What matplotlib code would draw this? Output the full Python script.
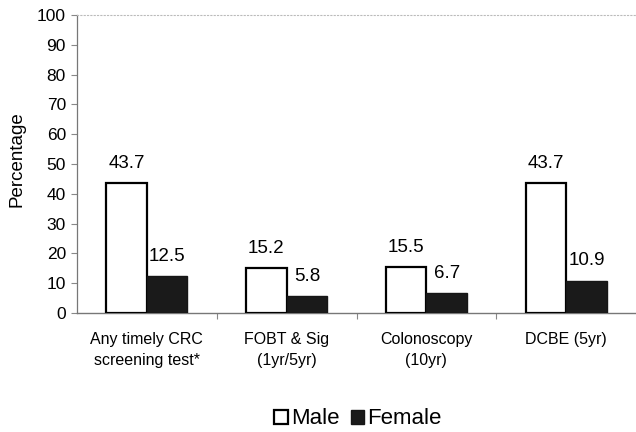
import matplotlib
matplotlib.use("Agg")
import matplotlib.pyplot as plt
import numpy as np

categories = ["Any timely CRC\nscreening test*", "FOBT & Sig\n(1yr/5yr)", "Colonoscopy\n(10yr)", "DCBE (5yr)"]
male = [43.7, 15.2, 15.5, 43.7]
female = [12.5, 5.8, 6.7, 10.9]
yticks = list(range(0, 101, 10))

plt.rcParams['font.family'] = ['Liberation Sans', 'DejaVu Sans']

fig = plt.figure(figsize=(6.36, 4.32), dpi=100)
ax = fig.add_axes([77/636, 1-313/432, (636-77)/636, 298/432])

x = np.arange(len(categories))
w = 0.29
b1 = ax.bar(x - w/2, male, w, color='white', edgecolor='black', linewidth=1.6, label='Male', zorder=3)
b2 = ax.bar(x + w/2, female, w, color='#1a1a1a', edgecolor='#161616', linewidth=1.0, label='Female', zorder=3)

for rect, v in zip(b1, male):
    ax.annotate(f"{v}", (rect.get_x() + rect.get_width()/2, v), xytext=(0, 8),
                textcoords='offset points', ha='center', va='bottom', fontsize=13.5)
for rect, v in zip(b2, female):
    ax.annotate(f"{v}", (rect.get_x() + rect.get_width()/2, v), xytext=(0, 8),
                textcoords='offset points', ha='center', va='bottom', fontsize=13.5)

ax.set_ylim(0, 100)
ax.set_xlim(-0.5, 3.5)
ax.set_yticks(yticks)
ax.set_yticklabels([str(t) for t in yticks], fontsize=12.5)
ax.tick_params(axis='y', length=4, color='#888888', width=0.8, pad=4)

ax.set_xticks(x)
ax.set_xticklabels(categories, fontsize=11.5, linespacing=1.45)
ax.tick_params(axis='x', length=0, pad=14)
ax.set_xticks([0.5, 1.5, 2.5], minor=True)
ax.tick_params(axis='x', which='minor', length=4, color='#888888', width=0.8)

ax.spines['right'].set_visible(False)
ax.spines['top'].set_color('#bbbbbb')
ax.spines['top'].set_linestyle((0, (1, 2)))
ax.spines['top'].set_linewidth(0.8)
ax.spines['left'].set_color('#777777')
ax.spines['left'].set_linewidth(0.9)
ax.spines['bottom'].set_color('#777777')
ax.spines['bottom'].set_linewidth(1.0)

ax.set_ylabel("Percentage", fontsize=13.5)
ax.yaxis.set_label_coords(-0.092, 0.515)

fig.legend(loc='center', bbox_to_anchor=(358/636, 1-419/432), ncol=2, frameon=False,
           fontsize=16, handlelength=0.6, handleheight=0.6, handletextpad=0.15,
           columnspacing=0.5, borderpad=0)

fig.savefig("out.png", dpi=100)
